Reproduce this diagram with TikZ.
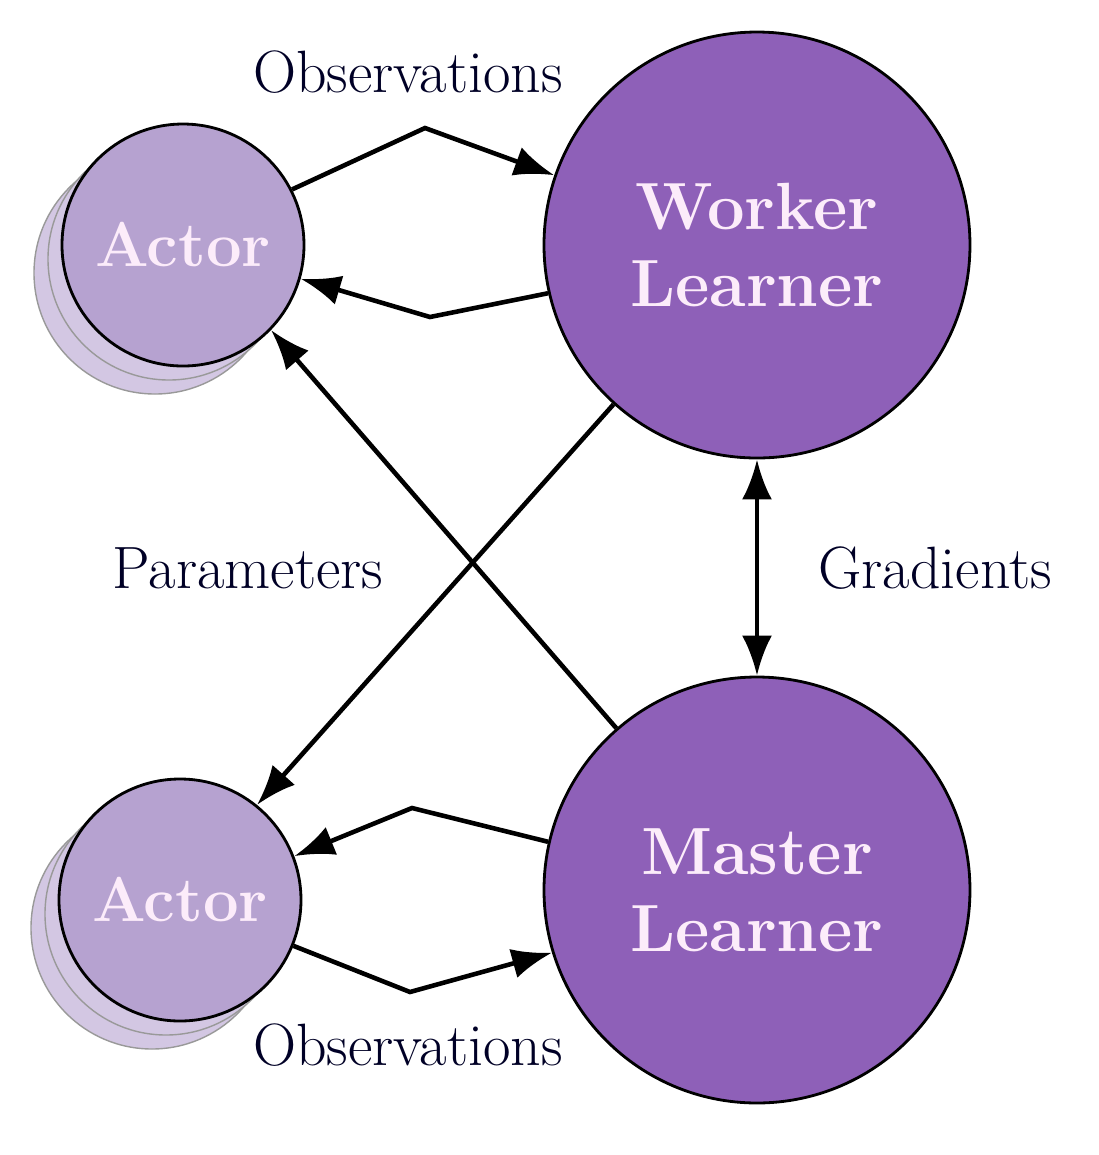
\documentclass[tikz,border=0pt]{standalone}
\usetikzlibrary{arrows.meta}
\definecolor{learnerfill}{RGB}{142,96,184}
\definecolor{actorfill}{RGB}{182,162,208}
\definecolor{nodetext}{RGB}{252,236,250}
\tikzset{
  learner/.style={circle, draw=black, thick, fill=learnerfill, minimum size=42.6mm, align=center,
    text=nodetext, font=\fontsize{19}{22}\selectfont\bfseries},
  actor/.style={circle, draw=black, thick, fill=actorfill, minimum size=24.2mm,
    text=nodetext, font=\fontsize{18}{21}\selectfont\bfseries},
  shadowactor/.style={circle, draw=black!40, fill=actorfill!60, minimum size=24.2mm},
  flow/.style={-{Latex[length=4mm,width=3mm]}, line width=1.3pt},
  lbl/.style={font=\fontsize{17}{20}\selectfont, text=black!85!blue}
}
\begin{document}
\begin{tikzpicture}[x=0.1mm,y=-0.1mm]
		\useasboundingbox (0,0) rectangle (1099,1155);
		\fill[white] (0,0) rectangle (1099,1155);
		%
		\node[shadowactor] at (155,273) {};
		\node[shadowactor] at (169,259) {};
		\node[actor] (actT) at (183,245) {Actor};
		\node[shadowactor] at (152,928) {};
		\node[shadowactor] at (166,914) {};
		\node[actor] (actB) at (180,900) {Actor};
		%
		\node[learner] (work) at (757,245) {Worker\\Learner};
		\node[learner] (mast) at (757,890) {Master\\Learner};
		%
		\coordinate (kT1) at (425,128);
		\coordinate (kT2) at (430,317);
		\coordinate (kB1) at (412,808);
		\coordinate (kB2) at (410,992);
		%
		\draw[flow] (actT.27) -- (kT1) -- (work.161);
		\draw[flow] (work.193) -- (kT2) -- (actT.-16);
		\draw[flow] (mast.167) -- (kB1) -- (actB.21);
		\draw[flow] (actB.-22) -- (kB2) -- (mast.197);
		\draw[flow] (work.228) -- (actB.51);
		\draw[flow] (mast.131) -- (actT.-44);
		\draw[flow, {Latex[length=4mm,width=3mm]}-{Latex[length=4mm,width=3mm]}] (work.270) -- (mast.90);
		%
		\node[lbl] (obsT) at (408,72) {Observations};
		\node[lbl] (par) at (248,568) {Parameters};
		\node[lbl] (grad) at (935,568) {Gradients};
		\node[lbl] (obsB) at (408,1045) {Observations};
	\end{tikzpicture}
\end{document}
